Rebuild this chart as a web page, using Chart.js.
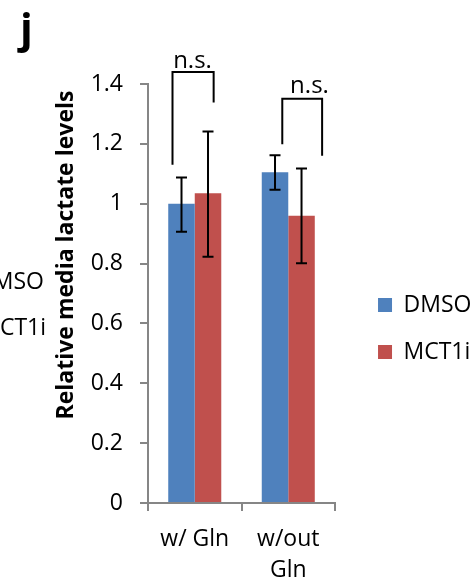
<!DOCTYPE html>
<html>
<head>
<meta charset="utf-8">
<script src="https://cdn.jsdelivr.net/npm/chart.js@4/dist/chart.umd.min.js"></script>
<style>
  html, body { margin: 0; padding: 0; background: #fff; }
  #wrap { width: 475px; height: 584px; }
</style>
</head>
<body>
<div id="wrap"><canvas id="chart"></canvas></div>
<script>
// --- data ---
const categories = [['w/ Gln'], ['w/out', 'Gln']];
const seriesNames = ['DMSO', 'MCT1i'];
const dmsoMean = [1.0, 1.105];
const dmsoLow = [0.906, 1.047];
const dmsoHigh = [1.088, 1.162];
const mct1iMean = [1.035, 0.96];
const mct1iLow = [0.823, 0.801];
const mct1iHigh = [1.241, 1.118];
const yTicks = [0, 0.2, 0.4, 0.6, 0.8, 1, 1.2, 1.4];
const yTickLabels = ['0', '0.2', '0.4', '0.6', '0.8', '1', '1.2', '1.4'];
const yTitle = 'Relative media lactate levels';
const panelLetter = 'j';
// significance brackets, x in category units, y in data units
const bracketLeft = [-0.238, 0.936];
const bracketRight = [0.202, 1.362];
const bracketTop = [1.44, 1.351];
const bracketLeftFoot = [1.13, 1.199];
const bracketRightFoot = [1.338, 1.16];
const bracketText = ['n.s.', 'n.s.'];
const bracketTextX = [-0.024, 1.227];
const bracketTextY = [1.452, 1.371];
// legend of the neighbouring panel, cut by the left edge
const cutLegend = ['DMSO', 'MCT1i'];

const COLORS = ['#4F81BD', '#C0504D'];
const AXIS_GREY = '#868686';
const FONT = "'Open Sans', sans-serif";

Chart.defaults.font.family = FONT;
Chart.defaults.color = '#000';

const errorBars = {
    id: 'errorBars',
    afterDatasetsDraw(chart) {
        const { ctx, scales: { y } } = chart;
        ctx.save();
        ctx.strokeStyle = '#000';
        ctx.lineWidth = 2;
        chart.data.datasets.forEach((ds, di) => {
            chart.getDatasetMeta(di).data.forEach((bar, i) => {
                const yt = y.getPixelForValue(ds.errHigh[i]);
                const yb = y.getPixelForValue(ds.errLow[i]);
                const half = 5.5;
                ctx.beginPath();
                ctx.moveTo(bar.x, yt); ctx.lineTo(bar.x, yb);
                ctx.moveTo(bar.x - half, yt); ctx.lineTo(bar.x + half, yt);
                ctx.moveTo(bar.x - half, yb); ctx.lineTo(bar.x + half, yb);
                ctx.stroke();
            });
        });
        ctx.restore();
    }
};

const annotations = {
    id: 'annotations',
    afterDraw(chart) {
        const { ctx, scales: { x, y } } = chart;
        ctx.save();
        ctx.strokeStyle = '#000';
        ctx.lineWidth = 2;
        bracketText.forEach((txt, i) => {
            const xl = x.getPixelForValue(bracketLeft[i]);
            const xr = x.getPixelForValue(bracketRight[i]);
            ctx.beginPath();
            ctx.moveTo(xl, y.getPixelForValue(bracketLeftFoot[i]));
            ctx.lineTo(xl, y.getPixelForValue(bracketTop[i]));
            ctx.lineTo(xr, y.getPixelForValue(bracketTop[i]));
            ctx.lineTo(xr, y.getPixelForValue(bracketRightFoot[i]));
            ctx.stroke();
            ctx.fillStyle = '#000';
            ctx.font = '24px ' + FONT;
            ctx.textAlign = 'center';
            ctx.textBaseline = 'alphabetic';
            ctx.fillText(txt, x.getPixelForValue(bracketTextX[i]), y.getPixelForValue(bracketTextY[i]));
        });

        // y axis title (not centred on the axis in the original)
        ctx.save();
        ctx.translate(73, 255);
        ctx.rotate(-Math.PI / 2);
        ctx.font = 'bold 23px ' + FONT;
        ctx.textAlign = 'center';
        ctx.textBaseline = 'alphabetic';
        ctx.fillText(yTitle, 0, 0);
        ctx.restore();

        // panel letter
        ctx.font = 'bold 42px ' + FONT;
        ctx.textAlign = 'left';
        ctx.textBaseline = 'alphabetic';
        ctx.fillText(panelLetter, 20, 43);

        // clipped legend text of the previous panel
        ctx.font = '23px ' + FONT;
        ctx.textAlign = 'right';
        ctx.fillText(cutLegend[0], 44, 289);
        ctx.fillText(cutLegend[1], 46, 335);
        ctx.restore();
    }
};

// legend sits further right than chart.js puts it, and is wider than its layout cap
const legendShift = {
    id: 'legendShift',
    afterLayout(chart) {
        const lg = chart.legend;
        lg.left += 19; lg.right = chart.width;
        lg.top -= 5.5; lg.bottom -= 5.5;
    }
};

new Chart(document.getElementById('chart'), {
    type: 'bar',
    data: {
        labels: categories,
        datasets: [
            { label: seriesNames[0], data: dmsoMean, errLow: dmsoLow, errHigh: dmsoHigh, backgroundColor: COLORS[0], borderWidth: 0 },
            { label: seriesNames[1], data: mct1iMean, errLow: mct1iLow, errHigh: mct1iHigh, backgroundColor: COLORS[1], borderWidth: 0 }
        ]
    },
    plugins: [errorBars, annotations, legendShift],
    options: {
        responsive: true,
        maintainAspectRatio: false,
        animation: false,
        categoryPercentage: 0.567,
        barPercentage: 1,
        layout: { padding: { top: 84, left: 90, right: 58.3, bottom: 0 } },
        scales: {
            x: {
                afterFit: s => { s.height = 81; },
                grid: { drawOnChartArea: false, tickLength: 8, color: AXIS_GREY, lineWidth: 2 },
                border: { color: AXIS_GREY, width: 2 },
                ticks: { font: { size: 23, lineHeight: 1.36 }, padding: 13, color: '#000', maxRotation: 0 }
            },
            y: {
                min: 0, max: 1.4,
                afterFit: s => { s.width = 58; },
                afterBuildTicks: s => { s.ticks = yTicks.map(v => ({ value: v })); },
                grid: { drawOnChartArea: false, tickLength: 8, color: AXIS_GREY, lineWidth: 2 },
                border: { color: AXIS_GREY, width: 2 },
                ticks: { font: { size: 23 }, padding: 17, color: '#000', callback: (v, i) => yTickLabels[i] }
            }
        },
        plugins: {
            legend: {
                position: 'right',
                labels: { boxWidth: 14, boxHeight: 14, padding: 24, font: { size: 23 }, color: '#000' }
            },
            tooltip: { enabled: false }
        }
    }
});
</script>
</body>
</html>
